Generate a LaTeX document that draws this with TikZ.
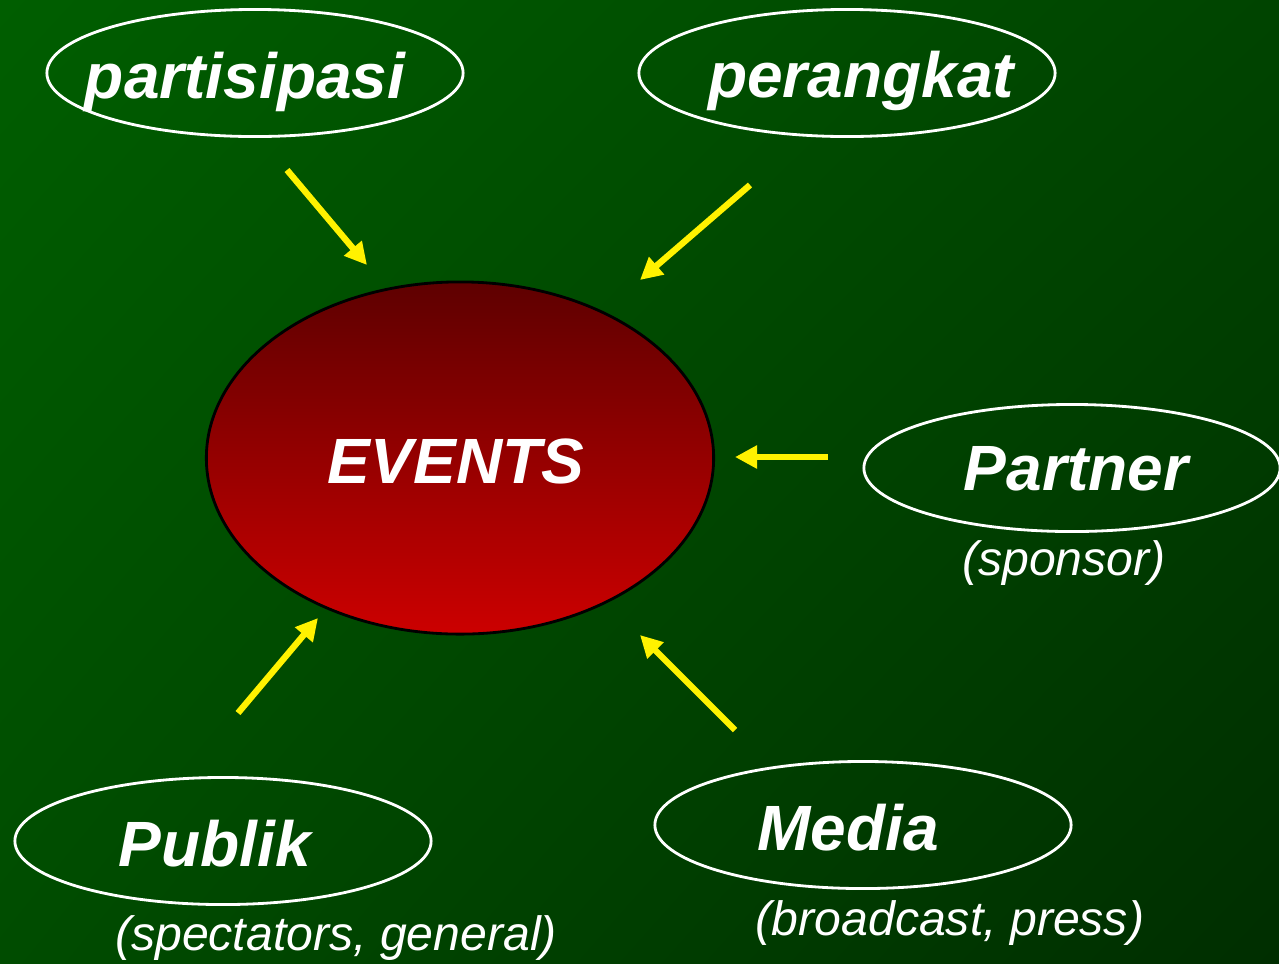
\documentclass[tikz,border=0pt]{standalone}
\usepackage{fontspec}
\setmainfont{Liberation Sans}
\usetikzlibrary{arrows.meta, shapes.geometric, shadings}
\definecolor{bgnw}{HTML}{005E00}
\definecolor{bgne}{HTML}{004400}
\definecolor{bgsw}{HTML}{004C00}
\definecolor{bgse}{HTML}{002E00}
\definecolor{eventtop}{HTML}{5E0000}
\definecolor{eventbottom}{HTML}{CC0000}

\begin{document}
\begin{tikzpicture}[x=0.01cm, y=-0.01cm, >={Triangle[length=0.22cm, width=0.22cm]},
	bubble/.style={ellipse, draw=white, line width=0.8pt, minimum width=4.16cm, minimum height=1.27cm, inner sep=0pt},
	title/.style={anchor=base, text=white, font=\fontsize{18.2}{20}\selectfont\bfseries\itshape},
	note/.style={anchor=base, text=white, font=\fontsize{13.7}{15}\selectfont\itshape},
	pointer/.style={->, draw=yellow, fill=yellow, line width=1.8pt}]
			\useasboundingbox (0,0) rectangle (1279,963);
			\shade[upper left=bgnw, upper right=bgne, lower left=bgsw, lower right=bgse] (0,0) rectangle (1279,963);
			
			% centre
			\node[ellipse, draw=black, line width=0.8pt, top color=eventtop, bottom color=eventbottom, minimum width=5.07cm, minimum height=3.52cm, inner sep=0pt](events) at (460,458) {};
			\node[title](events-text) at (456,483) {EVENTS};
			
			% outer bubbles
			\node[bubble](partisipasi) at (255,73) {};
			\node[title](partisipasi-text) at (245,98) {partisipasi};
			\node[bubble](perangkat) at (847,73) {};
			\node[title](perangkat-text) at (861,97) {perangkat};
			\node[bubble](partner) at (1072,468) {};
			\node[title](partner-text) at (1076,490) {Partner};
			\node[note](partner-note) at (1064,575) {(sponsor)};
			\node[bubble](publik) at (223,841) {};
			\node[title](publik-text) at (215,866) {Publik};
			\node[note](publik-note) at (336,950) {(spectators, general)};
			\node[bubble](media) at (863,825) {};
			\node[title](media-text) at (848,850) {Media};
			\node[note](media-note) at (950,935) {(broadcast, press)};
			
			% arrows
			\coordinate (partisipasi-from) at (287,170);
			\coordinate (partisipasi-to) at (367,265);
			\coordinate (perangkat-from) at (750,185);
			\coordinate (perangkat-to) at (640,280);
			\coordinate (partner-from) at (828,457);
			\coordinate (partner-to) at (735,457);
			\coordinate (publik-from) at (238,713);
			\coordinate (publik-to) at (318,618);
			\coordinate (media-from) at (735,730);
			\coordinate (media-to) at (640,635);
			
			\draw[pointer](partisipasi-from) -- (partisipasi-to);
			\draw[pointer](perangkat-from) -- (perangkat-to);
			\draw[pointer](partner-from) -- (partner-to);
			\draw[pointer](publik-from) -- (publik-to);
			\draw[pointer](media-from) -- (media-to);
		\end{tikzpicture}
\end{document}
